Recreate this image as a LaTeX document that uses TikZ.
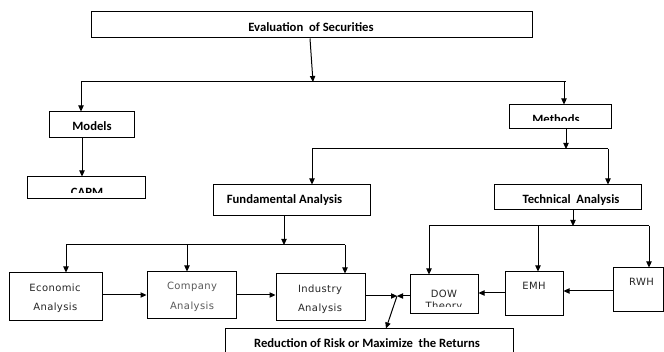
\documentclass[tikz,border=0pt]{standalone}
\usepackage{fontspec}
\usetikzlibrary{arrows.meta,calc}
\newfontfamily\carl{Carlito}
\newfontfamily\djv{DejaVu Sans}[LetterSpace=4]
\begin{document}
\begin{tikzpicture}[x=0.75pt,y=-0.75pt,
  bx/.style={draw=black, line width=0.75pt, inner sep=0pt, rectangle},
  ln/.style={draw=black, line width=0.75pt},
  arr/.style={ln, -{Triangle[length=4.5pt,width=4pt]}},
  bt/.style={font=\carl\bfseries\fontsize{9.5}{11}\selectfont, inner sep=0pt, anchor=base, text=black},
  nt/.style={font=\djv\fontsize{7.5}{9}\selectfont, inner sep=0pt, anchor=base, text=black!85}]
\useasboundingbox (0,0) rectangle (664,352);
\fill[white] (0,0) rectangle (664,352);
\clip (0,0) rectangle (664,352);
% boxes
\node[bx, minimum width=330.75pt, minimum height=19.5pt] (top) at (311.5,25) {};
\node[bx, minimum width=63.75pt, minimum height=19.5pt] (models) at (91.5,125) {};
\node[bx, minimum width=88.5pt, minimum height=16.5pt] (capm) at (86,188) {};
\node[bx, minimum width=76.5pt, minimum height=18pt] (methods) at (560,117) {};
\node[bx, minimum width=117.75pt, minimum height=23.25pt] (fund) at (291.5,200.5) {};
\node[bx, minimum width=110.25pt, minimum height=18.75pt] (tech) at (567.5,197.5) {};
\node[bx, minimum width=69.75pt, minimum height=36pt] (eco) at (55.5,297) {};
\node[bx, minimum width=66.75pt, minimum height=35.25pt] (comp) at (191.5,295.5) {};
\node[bx, minimum width=66.75pt, minimum height=35.25pt] (ind) at (320.5,297.5) {};
\node[bx, minimum width=51pt, minimum height=29.25pt] (dow) at (444,294.5) {};
\node[bx, minimum width=43.5pt, minimum height=33pt] (emh) at (534,294) {};
\node[bx, minimum width=37.5pt, minimum height=33pt] (rwh) at (638,290) {};
\node[bx, minimum width=216pt, minimum height=23.25pt] (red) at (369,344.5) {};
% texts
\node[bt] (ttop) at (311,31.5) {Evaluation\ \ of Securities};
\node[bt] (tmodels) at (92,130.5) {Models};
\begin{scope}
\clip (27,177) rectangle (145,193);
\node[bt] (tcapm) at (87,196.5) {CAPM};
\end{scope}
\begin{scope}
\clip (509,105) rectangle (611,121);
\node[bt] (tmethods) at (556,123.5) {Methods};
\end{scope}
\node[bt] (tfund) at (284.5,204) {Fundamental Analysis};
\node[bt] (ttech) at (571,204) {Technical\ \ Analysis};
\node[nt] (teco1) at (55,291.5) {Economic};
\node[nt] (teco2) at (55.3,311) {Analysis};
\node[nt, text=black!65] (tcomp1) at (192,290) {Company};
\node[nt, text=black!65] (tcomp2) at (192,310) {Analysis};
\node[nt] (tind1) at (320,293) {Industry};
\node[nt] (tind2) at (320,311.5) {Analysis};
\node[nt] (tdow1) at (444,297.3) {DOW};
\begin{scope}
\clip (410,275) rectangle (478,306.7);
\node[nt] (tdow2) at (444,309.6) {Theory};
\end{scope}
\node[nt] (temh) at (534,290) {EMH};
\node[nt] (trwh) at (641.5,285.7) {RWH};
\node[bt] (tred) at (367,348) {Reduction of Risk or Maximize\ \ the Returns};
% junction coordinates
\coordinate (j1) at (313,82);
\coordinate (h1l) at (81,82);
\coordinate (h1r) at (564,82);
\coordinate (c1) at (82,0);
\coordinate (j2) at (566,149);
\coordinate (h2l) at (312,149);
\coordinate (h2r) at (608,149);
\coordinate (j3) at (284,245);
\coordinate (h3l) at (66,245);
\coordinate (h3m) at (187,245);
\coordinate (h3r) at (345,245);
\coordinate (j4) at (573,226);
\coordinate (h4l) at (429,226);
\coordinate (h4m) at (538,226);
\coordinate (h4r) at (649,226);
\coordinate (r1) at (0,295);
\coordinate (m) at (397,296);
\coordinate (r2) at (386,0);
\coordinate (r3) at (0,293);
\coordinate (r4) at (0,291);
% connectors
\draw[arr] ($(top.south)+(-1.5,0)$) -- (j1);
\draw[ln] (h1l) -- (566,82);
\draw[arr] (h1l) -- (h1l |- models.north);
\draw[arr] (h1r) -- (h1r |- methods.north);
\draw[arr] (models.south -| c1) -- (capm.north -| c1);
\draw[arr] (methods.south -| j2) -- (j2);
\draw[ln] (h2l) -- (h2r);
\draw[arr] (h2l) -- (h2l |- fund.north);
\draw[arr] (h2r) -- (h2r |- tech.north);
\draw[arr] (fund.south -| j3) -- (j3);
\draw[ln] (h3l) -- (h3r);
\draw[arr] (h3l) -- (h3l |- eco.north);
\draw[arr] (h3m) -- (h3m |- comp.north);
\draw[arr] (h3r) -- (h3r |- ind.north);
\draw[arr] (tech.south -| j4) -- (j4);
\draw[ln] (h4l) -- (h4r);
\draw[arr] (h4l) -- (h4l |- dow.north);
\draw[arr] (h4m) -- (h4m |- emh.north);
\draw[arr] (h4r) -- (h4r |- rwh.north);
\draw[arr] (eco.east |- r1) -- (comp.west |- r1);
\draw[arr] (comp.east |- r1) -- (ind.west |- r1);
\draw[arr] (ind.east |- m) -- (m);
\draw[arr] (dow.west |- m) -- (m);
\draw[arr] (m) -- (red.north -| r2);
\draw[arr] (emh.west |- r3) -- (dow.east |- r3);
\draw[arr] (rwh.west |- r4) -- (emh.east |- r4);
\end{tikzpicture}
\end{document}
